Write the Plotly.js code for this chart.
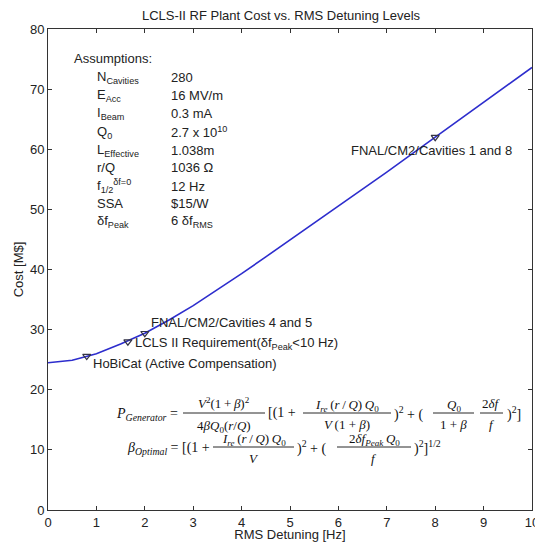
<!DOCTYPE html>
<html>
<head>
<meta charset="utf-8">
<script src="https://cdn.plot.ly/plotly-3.0.1.min.js"></script>
<style>html,body{margin:0;padding:0;background:#fff;}#chart{width:535px;height:542px;}</style>
</head>
<body>
<div id="chart"></div>
<script>
// ---- data ----
const detuning = [0, 0.5, 1, 1.5, 2, 2.5, 3, 3.5, 4, 4.5, 5, 5.5, 6, 6.5, 7, 7.5, 8, 8.5, 9, 9.5, 10];
const cost = [24.5, 24.9, 26.0, 27.6, 29.4, 31.6, 34.0, 36.6, 39.3, 42.1, 44.9, 47.7, 50.5, 53.4, 56.2, 59.1, 62.0, 64.9, 67.8, 70.7, 73.6];
const markerDetuning = [0.8, 1.65, 2.0, 8.0];
const markerCost = [25.6, 28.0, 29.4, 62.0];
const markerLabels = ["HoBiCat (Active Compensation)", "LCLS II Requirement(δf<sub>Peak</sub>&lt;10 Hz)", "FNAL/CM2/Cavities 4 and 5", "FNAL/CM2/Cavities 1 and 8"];
const assumptionNames = ["N<sub>Cavities</sub>", "E<sub>Acc</sub>", "I<sub>Beam</sub>", "Q<sub>0</sub>", "L<sub>Effective</sub>", "r/Q", "f<sub>1/2</sub><sup>δf=0</sup>", "SSA", "δf<sub>Peak</sub>"];
const assumptionValues = ["280", "16 MV/m", "0.3 mA", "2.7 x 10<sup>10</sup>", "1.038m", "1036 Ω", "12 Hz", "$15/W", "6 δf<sub>RMS</sub>"];
const xTicks = [0,1,2,3,4,5,6,7,8,9,10];
const yTicks = [0,10,20,30,40,50,60,70,80];

// ---- layout helpers (pixel -> data) ----
const L = 48, R = 532, T = 29, B = 510;
const dx = p => (p - L) / (R - L) * 10;
const dy = p => (B - p) / (B - T) * 80;

const sans = "Liberation Sans, Arial, sans-serif";
const serif = "Liberation Serif, Times New Roman, serif";
const annotations = [];
const shapes = [];
function txt(text, x, y, opts) {
  annotations.push(Object.assign({
    text: text, x: dx(x), y: dy(y), xref: 'x', yref: 'y', showarrow: false,
    xanchor: 'left', yanchor: 'middle', borderpad: 0, font: {family: sans, size: 13, color: '#222'}
  }, opts || {}));
}
function hline(x0, x1, y) {
  shapes.push({type: 'line', xref: 'x', yref: 'y', x0: dx(x0), x1: dx(x1), y0: dy(y), y1: dy(y), line: {color: '#111', width: 0.9}});
}

// assumptions block
txt("Assumptions:", 73, 58);
const rowY = [77, 95, 113, 132, 150, 167, 186, 203, 221];
assumptionNames.forEach((n, i) => txt(n, 96, rowY[i]));
assumptionValues.forEach((v, i) => txt(v, 170, rowY[i]));

// marker labels
txt(markerLabels[0], 92, 363);
txt(markerLabels[1], 134, 343);
txt(markerLabels[2], 150, 322);
txt(markerLabels[3], 431, 150, {xanchor: 'center'});

// formulas
const mf = {family: serif, size: 14, color: '#111'};
const ff = {family: serif, size: 13, color: '#111'};
const ts = "\u2009";
function m(text, x, y, xa, font) { txt(text, x, y, {font: font || mf, xanchor: xa || 'left', yanchor: 'middle'}); }
function frac(num, den, x0, x1, y, numSub, denSub) {
  const c = (x0 + x1) / 2;
  m(num, c, y - 10 + (numSub ? 2 : 0), 'center', ff);
  hline(x0, x1, y);
  m(den, c, y + 11 + (denSub ? 2 : 0), 'center', ff);
}
// formula 1
const y1 = 413;
m("<i>P</i><sub><i>Generator</i></sub> =", 179, y1 + 1, 'right');
frac("<i>V</i><sup>2</sup>(1" + ts + "+" + ts + "<i>β</i>)<sup>2</sup>", "4<i>β</i><i>Q</i><sub>0</sub>(<i>r</i>/<i>Q</i>)", 183, 265, y1, false, true);
m("[(1 +", 267, y1);
frac("<i>I</i><sub><i>re</i></sub>" + ts + "(<i>r</i>" + ts + "/" + ts + "<i>Q</i>)" + ts + "<i>Q</i><sub>0</sub>", "<i>V</i>" + ts + "(1 + <i>β</i>)", 303, 391, y1, true, false);
m(")<sup>2</sup> + (", 393, y1);
frac("<i>Q</i><sub>0</sub>", "1 + <i>β</i>", 433, 474, y1, true, false);
frac("2<i>δf</i>", "<i>f</i>", 480, 503, y1, false, false);
m(")<sup>2</sup>]", 506, y1);
// formula 2
const y2 = 447;
m("<i>β</i><sub><i>Optimal</i></sub> = [(1 +", 211, y2 + 1, 'right');
frac("<i>I</i><sub><i>re</i></sub>" + ts + "(<i>r</i>" + ts + "/" + ts + "<i>Q</i>)" + ts + "<i>Q</i><sub>0</sub>", "<i>V</i>", 213, 294, y2, true, false);
m(")<sup>2</sup> + (", 296, y2);
frac("2<i>δf</i><sub><i>Peak</i></sub>" + ts + "<i>Q</i><sub>0</sub>", "<i>f</i>", 337, 411, y2, true, false);
m(")<sup>2</sup>]<sup>1/2</sup>", 413, y2);

const traces = [
  {x: detuning, y: cost, type: 'scatter', mode: 'lines', line: {color: 'rgb(45,45,205)', width: 1.6}, hoverinfo: 'skip'},
  {x: markerDetuning, y: markerCost, type: 'scatter', mode: 'markers',
   marker: {symbol: 'triangle-down-open', size: 7, color: '#334', line: {width: 1.2}}, hoverinfo: 'skip'}
];

const axisCommon = {
  showgrid: false, zeroline: false, showline: true, linecolor: '#333', linewidth: 1,
  mirror: 'ticks', ticks: 'inside', ticklen: 4, tickcolor: '#333',
  ticklabeloverflow: 'allow',
  tickfont: {family: sans, size: 13, color: '#222'}
};

const layout = {
  width: 535, height: 542,
  margin: {l: L, r: 535 - R, t: T, b: 542 - B, pad: 0},
  paper_bgcolor: '#fff', plot_bgcolor: '#fff',
  showlegend: false,
  title: {text: "LCLS-II RF Plant Cost vs. RMS Detuning Levels", x: 281 / 535, xanchor: 'center', y: 1 - 15 / 542, yanchor: 'middle',
          font: {family: sans, size: 13, color: '#222'}},
  xaxis: Object.assign({}, axisCommon, {range: [0, 10], tickvals: xTicks, ticktext: xTicks.map(String),
          title: {text: "RMS Detuning [Hz]", standoff: 1, font: {family: sans, size: 13, color: '#222'}}}),
  yaxis: Object.assign({}, axisCommon, {range: [0, 80], tickvals: yTicks, ticktext: yTicks.map(String),
          title: {text: "Cost [M$]", standoff: 3, font: {family: sans, size: 13, color: '#222'}}}),
  annotations: annotations,
  shapes: shapes
};

Plotly.newPlot('chart', traces, layout, {staticPlot: true, displayModeBar: false});
</script>
</body>
</html>
